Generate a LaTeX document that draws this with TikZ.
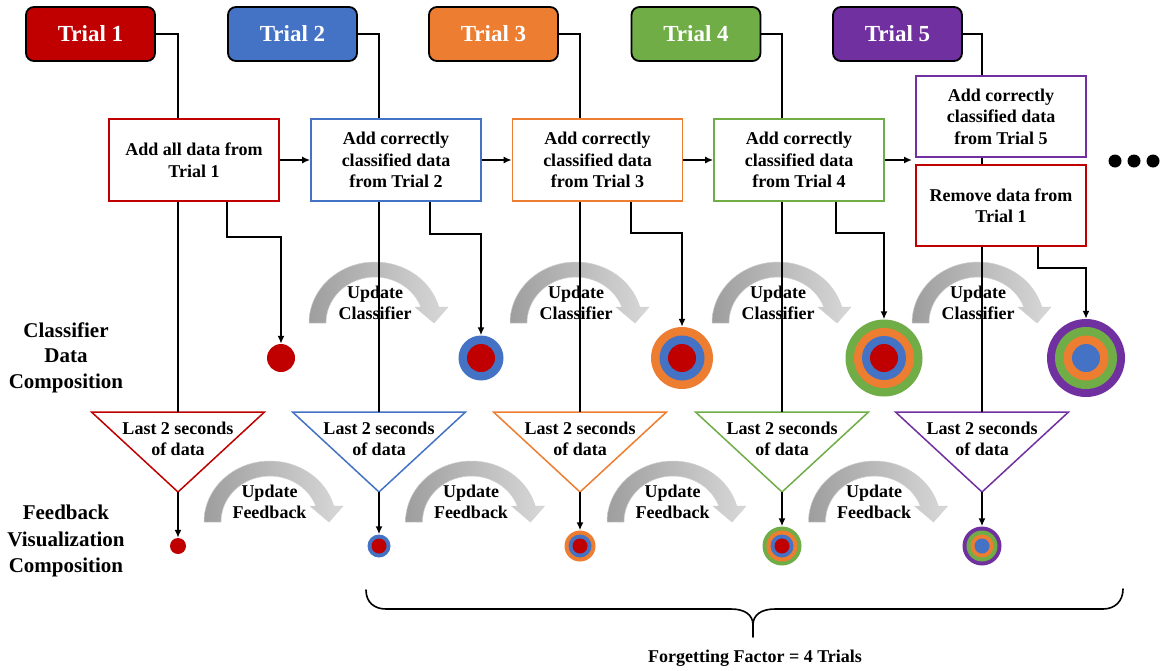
\documentclass[tikz,border=0pt]{standalone}
\usepackage{fontspec}
\setmainfont{Liberation Serif}
\usetikzlibrary{arrows.meta,calc}
\definecolor{cred}{HTML}{C00000}
\definecolor{cblue}{HTML}{4472C4}
\definecolor{corange}{HTML}{ED7D31}
\definecolor{cgreen}{HTML}{70AD47}
\definecolor{cpurple}{HTML}{7030A0}
\definecolor{arcdark}{HTML}{9E9E9E}
\definecolor{arclight}{HTML}{D8D8D8}
\begin{document}
\begin{tikzpicture}[x=1pt,y=1pt,
 trial/.style={draw=black, line width=1.8pt, rounded corners=8pt, minimum width=129pt, minimum height=54pt, text=white, font=\fontsize{23}{27}\selectfont\bfseries, inner sep=0pt},
 procbox/.style={draw, line width=1.6pt, fill=white, minimum width=170pt, minimum height=82pt, align=center, font=\fontsize{18}{21.5}\selectfont\bfseries, inner sep=0pt},
 txt/.style={align=center, font=\fontsize{18}{21}\selectfont\bfseries, inner sep=0pt},
 sidelbl/.style={align=center, font=\fontsize{21}{25.5}\selectfont\bfseries, inner sep=0pt},
 wire/.style={line width=1.6pt},
 arr/.style={line width=1.6pt, -{Latex[length=8pt,width=7pt]}},
 tri/.style={line width=1.5pt, fill=white, line join=miter},
 disc/.style={circle, inner sep=0pt, draw=none, fill=#1},
 curved/.style={left color=arcdark, right color=arclight, draw=black!18, line width=0.5pt},
 bracestyle/.style={line width=1.6pt, line cap=round},
]
\fill[white] (0,0) rectangle (1161,-670);
\useasboundingbox (0,0) rectangle (1161,-670);

% ---------- curved "update" arrows ----------
\foreach \cx/\by in {379/-323, 580/-323, 782/-323, 982/-323, 274/-522, 475.5/-522, 677/-522, 878.5/-522}{
  \begin{scope}[shift={(\cx,\by)}]
    \path[curved] (-70,0) arc[start angle=180, end angle=15.2, x radius=66, y radius=61]
      -- (69,16) -- (55,0) -- (36,16) -- (41.9,16)
      arc[start angle=20.4, end angle=180, x radius=49, y radius=46] -- cycle;
  \end{scope}
}
\node[txt] (uc2) at (375,-303) {Update\\Classifier};
\node[txt] (uc3) at (576,-303) {Update\\Classifier};
\node[txt] (uc4) at (778,-303) {Update\\Classifier};
\node[txt] (uc5) at (978,-303) {Update\\Classifier};
\node[txt] (uf1) at (269.5,-501.5) {Update\\Feedback};
\node[txt] (uf2) at (471,-501.5) {Update\\Feedback};
\node[txt] (uf3) at (672.5,-501.5) {Update\\Feedback};
\node[txt] (uf4) at (874,-501.5) {Update\\Feedback};

% ---------- trial headers ----------
\node[trial, fill=cred] (T1) at (90.5,-34) {Trial 1};
\node[trial, fill=cblue] (T2) at (292.5,-34) {Trial 2};
\node[trial, fill=corange] (T3) at (493.5,-34) {Trial 3};
\node[trial, fill=cgreen] (T4) at (696,-34) {Trial 4};
\node[trial, fill=cpurple] (T5) at (897.5,-34) {Trial 5};

% ---------- process boxes ----------
\node[procbox, draw=cred] (B1) at (194,-160) {Add all data from\\Trial 1};
\node[procbox, draw=cblue] (B2) at (396,-160) {Add correctly\\classified data\\from Trial 2};
\node[procbox, draw=corange] (B3) at (597.5,-160) {Add correctly\\classified data\\from Trial 3};
\node[procbox, draw=cgreen] (B4) at (799,-160) {Add correctly\\classified data\\from Trial 4};
\node[procbox, draw=cpurple, minimum height=81pt] (B5) at (1001,-116.5) {Add correctly\\classified data\\from Trial 5};
\node[procbox, draw=cred, minimum height=81pt] (R5) at (1001,-205.5) {Remove data from\\Trial 1};

% ---------- column coordinates ----------
\coordinate (k1) at (178,0);
\coordinate (k2) at (379,0);
\coordinate (k3) at (580,0);
\coordinate (k4) at (782,0);
\coordinate (k5) at (982,0);
\coordinate (j1) at (227,0);
\coordinate (j2) at (430,0);
\coordinate (j3) at (631,0);
\coordinate (j4) at (836,0);
\coordinate (j5) at (1038,0);

% ---------- classifier composition discs ----------
\node[disc=cred, minimum size=28pt] (C1) at (281,-358) {};
\node[disc=cblue, minimum size=45pt] (C2) at (481,-358) {};
\node[disc=cred, minimum size=28pt] (C2a) at (C2) {};
\node[disc=corange, minimum size=62pt] (C3) at (682,-358) {};
\node[disc=cblue, minimum size=45pt] (C3a) at (C3) {};
\node[disc=cred, minimum size=28pt] (C3b) at (C3) {};
\node[disc=cgreen, minimum size=77pt] (C4) at (884,-358) {};
\node[disc=corange, minimum size=60pt] (C4a) at (C4) {};
\node[disc=cblue, minimum size=44pt] (C4b) at (C4) {};
\node[disc=cred, minimum size=28pt] (C4c) at (C4) {};
\node[disc=cpurple, minimum size=78pt] (C5) at (1086,-358) {};
\node[disc=cgreen, minimum size=62pt] (C5a) at (C5) {};
\node[disc=corange, minimum size=45pt] (C5b) at (C5) {};
\node[disc=cblue, minimum size=28pt] (C5c) at (C5) {};

% ---------- triangles ----------
\foreach \i/\x/\c in {1/178/cred, 2/379/cblue, 3/580/corange, 4/782/cgreen, 5/982/cpurple}{
  \draw[tri, draw=\c] (\x-86.5,-412) -- (\x+86.5,-412) -- (\x,-492) -- cycle;
  \coordinate (Q\i) at (\x,-412);
  \coordinate (P\i) at (\x,-492);
  \node[txt] (L\i) at (\x,-439) {Last 2 seconds\\of data};
}

% ---------- feedback composition discs ----------
\node[disc=cred, minimum size=16pt] (F1) at (178,-546) {};
\node[disc=cblue, minimum size=23pt] (F2) at (379,-546) {};
\node[disc=cred, minimum size=15pt] (F2a) at (F2) {};
\node[disc=corange, minimum size=31pt] (F3) at (580,-546) {};
\node[disc=cblue, minimum size=23pt] (F3a) at (F3) {};
\node[disc=cred, minimum size=15pt] (F3b) at (F3) {};
\node[disc=cgreen, minimum size=39pt] (F4) at (782,-546) {};
\node[disc=corange, minimum size=31pt] (F4a) at (F4) {};
\node[disc=cblue, minimum size=23pt] (F4b) at (F4) {};
\node[disc=cred, minimum size=15pt] (F4c) at (F4) {};
\node[disc=cpurple, minimum size=39pt] (F5) at (982,-546) {};
\node[disc=cgreen, minimum size=31pt] (F5a) at (F5) {};
\node[disc=corange, minimum size=23pt] (F5b) at (F5) {};
\node[disc=cblue, minimum size=15pt] (F5c) at (F5) {};

% ---------- side labels ----------
\node[sidelbl] (lab1) at (66,-357.5) {Classifier\\Data\\Composition};
\node[sidelbl, font=\fontsize{21}{26.5}\selectfont\bfseries] (lab2) at (66,-541) {Feedback\\Visualization\\Composition};

% ---------- dots ----------
\node[disc=black, minimum size=13pt] (d1) at (1115,-161) {};
\node[disc=black, minimum size=13pt] (d2) at (1134,-161) {};
\node[disc=black, minimum size=13pt] (d3) at (1153,-161) {};

% ---------- wires ----------
\draw[wire] (T1.east) -| (B1.north -| k1);
\draw[wire] (T2.east) -| (B2.north -| k2);
\draw[wire] (T3.east) -| (B3.north -| k3);
\draw[wire] (T4.east) -| (B4.north -| k4);
\draw[wire] (T5.east) -| (B5.north -| k5);

\draw[wire] (B1.south -| k1) -- (Q1);
\draw[wire] (B2.south -| k2) -- (Q2);
\draw[wire] (B3.south -| k3) -- (Q3);
\draw[wire] (B4.south -| k4) -- (Q4);
\draw[wire] (B5.south -| k5) -- (R5.north -| k5);
\draw[wire] (R5.south -| k5) -- (Q5);

\draw[arr] (B1.south -| j1) -- ++(0,-35) -| (C1.north);
\draw[arr] (B2.south -| j2) -- ++(0,-32) -| (C2.north);
\draw[arr] (B3.south -| j3) -- ++(0,-31) -| (C3.north);
\draw[arr] (B4.south -| j4) -- ++(0,-31) -| (C4.north);
\draw[arr] (R5.south -| j5) -- ++(0,-21) -| (C5.north);

\coordinate (g5) at (912,-160);
\draw[arr] (B1.east) -- (B2.west);
\draw[arr] (B2.east) -- (B3.west);
\draw[arr] (B3.east) -- (B4.west);
\draw[arr] (B4.east) -- (g5);

\draw[arr] (P1) -- (F1.north);
\draw[arr] (P2) -- (F2.north);
\draw[arr] (P3) -- (F3.north);
\draw[arr] (P4) -- (F4.north);
\draw[arr] (P5) -- (F5.north);

% ---------- brace ----------
\coordinate (bl) at (366,-590);
\coordinate (bm) at (753,-625);
\coordinate (bt) at (753,-637);
\coordinate (br) at (1123,-589);
\draw[bracestyle] (bl) .. controls (366,-602) and (374,-609) .. (386,-609) -- (731,-609)
  .. controls (745,-609) and (753,-615) .. (bm) -- (bt);
\draw[bracestyle] (bm) .. controls (753,-615) and (761,-609) .. (775,-609) -- (1103,-609)
  .. controls (1115,-609) and (1123,-601) .. (br);
\node[txt] (ff) at (755,-658) {Forgetting Factor = 4 Trials};
\end{tikzpicture}
\end{document}
